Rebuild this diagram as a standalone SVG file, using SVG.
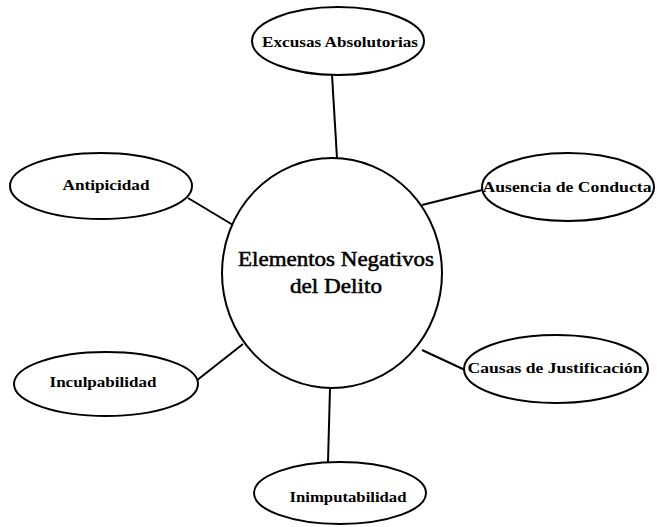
<svg xmlns="http://www.w3.org/2000/svg" width="657" height="527" viewBox="0 0 657 527">
<style>
.n{fill:#fff;stroke:#000;stroke-width:2}
.c line{stroke:#000;stroke-width:2}
.t{font-family:"Liberation Serif",serif;font-weight:bold;font-size:14px;text-anchor:middle;fill:#000}
.m{font-family:"Liberation Serif",serif;font-size:20px;text-anchor:middle;fill:#000;stroke:#000;stroke-width:0.5}
</style>
<rect width="657" height="527" fill="#fff"/>
<g id="connectors" class="c">
<line x1="332" y1="75" x2="337" y2="158"/>
<line x1="188" y1="198" x2="233" y2="225"/>
<line x1="482" y1="190" x2="422" y2="205"/>
<line x1="196" y1="381" x2="243" y2="344"/>
<line x1="465" y1="370" x2="422" y2="350"/>
<line x1="330" y1="388" x2="328" y2="462"/>
</g>
<g id="center">
<ellipse class="n" cx="332" cy="273" rx="110" ry="115"/>
<text class="m" x="336" y="266" textLength="196" lengthAdjust="spacingAndGlyphs">Elementos Negativos</text>
<text class="m" x="336" y="293" textLength="92" lengthAdjust="spacingAndGlyphs">del Delito</text>
</g>
<g id="excusas">
<ellipse class="n" cx="338" cy="41" rx="86" ry="34"/>
<text class="t" x="340" y="47" textLength="156" lengthAdjust="spacingAndGlyphs">Excusas Absolutorias</text>
</g>
<g id="antipicidad">
<ellipse class="n" cx="101" cy="186" rx="91" ry="33"/>
<text class="t" x="106" y="190" textLength="87" lengthAdjust="spacingAndGlyphs">Antipicidad</text>
</g>
<g id="ausencia">
<ellipse class="n" cx="568" cy="187" rx="86" ry="34"/>
<text class="t" x="567" y="192" textLength="169" lengthAdjust="spacingAndGlyphs">Ausencia de Conducta</text>
</g>
<g id="inculpabilidad">
<ellipse class="n" cx="106" cy="384" rx="92" ry="32"/>
<text class="t" x="103" y="387" textLength="107" lengthAdjust="spacingAndGlyphs">Inculpabilidad</text>
</g>
<g id="causas">
<ellipse class="n" cx="556" cy="369" rx="92" ry="34"/>
<text class="t" x="555" y="373" textLength="175" lengthAdjust="spacingAndGlyphs">Causas de Justificación</text>
</g>
<g id="inimputabilidad">
<ellipse class="n" cx="340" cy="493" rx="86" ry="31"/>
<text class="t" x="348" y="502" textLength="117" lengthAdjust="spacingAndGlyphs">Inimputabilidad</text>
</g>
</svg>
